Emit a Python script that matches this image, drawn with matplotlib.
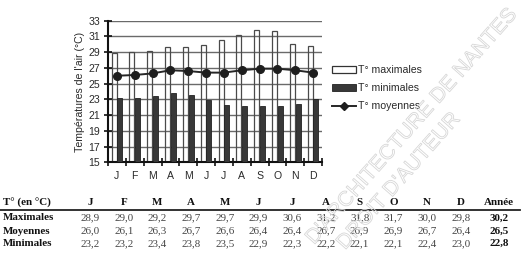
import matplotlib
matplotlib.use('Agg')
import matplotlib.pyplot as plt
import matplotlib.patheffects as pe
from matplotlib.patches import Patch
from matplotlib.lines import Line2D
import numpy as np

# ---------------- data ----------------
months = ['J', 'F', 'M', 'A', 'M', 'J', 'J', 'A', 'S', 'O', 'N', 'D']
t_max = [28.9, 29.0, 29.2, 29.7, 29.7, 29.9, 30.6, 31.2, 31.8, 31.7, 30.0, 29.8]
t_moy = [26.0, 26.1, 26.3, 26.7, 26.6, 26.4, 26.4, 26.7, 26.9, 26.9, 26.7, 26.4]
t_min = [23.2, 23.2, 23.4, 23.8, 23.5, 22.9, 22.3, 22.2, 22.1, 22.1, 22.4, 23.0]
year_max, year_moy, year_min = 30.2, 26.5, 22.8
yticks = list(range(15, 34, 2))
series_labels = ['T° maximales', 'T° minimales', 'T° moyennes']
row_labels = ['Maximales', 'Moyennes', 'Minimales']
header_label = 'T° (en °C)'
year_label = 'Année'
ylabel = "Températures de l'air (°C)"
watermark1 = "D'ARCHITECTURE DE NANTES"
watermark2 = "DROIT D'AUTEUR"

# ---------------- figure ----------------
W, H = 523, 262
fig = plt.figure(figsize=(W / 100, H / 100), dpi=100)
fig.patch.set_facecolor('white')

def fx(x):
    return x / W

def fy(y):
    return 1 - y / H

SANS = 'Liberation Sans'
SERIF = 'Liberation Serif'
fs = 7.6

ax_l, ax_r, ax_t, ax_b = 108, 322, 20.7, 162.3
ax = fig.add_axes([fx(ax_l), fy(ax_b), (ax_r - ax_l) / W, (ax_b - ax_t) / H])

x = np.arange(len(months))
bw = 0.28
off = 0.155
ax.bar(x - off, t_max, width=bw, bottom=0, facecolor='none', edgecolor='#4a4a4a',
       linewidth=0.9, zorder=2)
ax.bar(x + off, t_min, width=bw, bottom=0, facecolor='#383838', edgecolor='#222222',
       linewidth=0.6, zorder=3)
ax.plot(x, t_moy, color='#262626', linewidth=1.4, marker='o', markersize=5.5,
        markerfacecolor='#1e1e1e', markeredgecolor='#1e1e1e', zorder=4)

ax.set_xlim(-0.5, len(months) - 0.5)
ax.set_ylim(15, 33)
ax.set_yticks(yticks)
ax.set_yticklabels([str(v) for v in yticks], fontsize=fs, family=SANS, color='#2a2a2a')
ax.set_xticks(np.arange(-0.5, len(months), 1.0))
ax.set_xticklabels([])
ax.set_xticks(x, minor=True)
ax.set_xticklabels(months, minor=True, fontsize=fs, family=SANS, color='#2a2a2a')
ax.tick_params(axis='y', which='major', direction='inout', length=6, width=1.2,
               color='#111111', pad=2.5)
ax.tick_params(axis='x', which='major', direction='inout', length=6, width=1.2,
               color='#111111')
ax.tick_params(axis='x', which='minor', length=0, pad=6.5)

ax.grid(axis='y', color='#6a6a6a', linewidth=1.0, zorder=1)
ax.set_axisbelow(True)
for s in ['top', 'right']:
    ax.spines[s].set_visible(False)
for s in ['left', 'bottom']:
    ax.spines[s].set_color('#111111')
    ax.spines[s].set_linewidth(1.5)
ax.patch.set_alpha(0)

fig.text(fx(80), fy(92), ylabel, rotation=90, ha='center', va='center',
         fontsize=fs, family=SANS, color='#2a2a2a')

# legend
handles = [
    Patch(facecolor='white', edgecolor='#333333', linewidth=0.9),
    Patch(facecolor='#383838', edgecolor='#222222', linewidth=0.6),
    Line2D([0], [0], color='#262626', linewidth=1.4, marker='D', markersize=4,
           markerfacecolor='#1e1e1e', markeredgecolor='#1e1e1e'),
]
leg = fig.legend(handles, series_labels, loc='upper left',
                 bbox_to_anchor=(fx(332), fy(65)), frameon=False,
                 prop={'family': SANS, 'size': fs}, handlelength=2.3,
                 handleheight=0.6, handletextpad=0.15, labelspacing=0.78,
                 borderpad=0, borderaxespad=0)
for t in leg.get_texts():
    t.set_color('#2a2a2a')

# ---------------- table ----------------
tfs = 7.9
col_x = [90 + 33.7 * i for i in range(len(months))]
year_x = 499
header_y, line_y = 202.5, 209.5
row_y = [218, 231, 243.5]

fig.text(fx(3), fy(header_y), header_label, ha='left', va='center', fontsize=tfs,
         family=SERIF, weight='bold', color='#111111')
for cx, m in zip(col_x, months):
    fig.text(fx(cx), fy(header_y), m, ha='center', va='center', fontsize=tfs,
             family=SERIF, weight='bold', color='#111111')
fig.text(fx(year_x), fy(header_y), year_label, ha='center', va='center', fontsize=tfs,
         family=SERIF, weight='bold', color='#111111')
fig.add_artist(Line2D([fx(0), fx(520)], [fy(line_y), fy(line_y)], color='#222222',
                      linewidth=1.3))

rows = [t_max, t_moy, t_min]
years = [year_max, year_moy, year_min]
for ry, lab, vals, yv in zip(row_y, row_labels, rows, years):
    fig.text(fx(3), fy(ry), lab, ha='left', va='center', fontsize=tfs,
             family=SERIF, weight='bold', color='#111111')
    for cx, v in zip(col_x, vals):
        fig.text(fx(cx), fy(ry), f'{v:.1f}'.replace('.', ','), ha='center',
                 va='center', fontsize=tfs, family=SERIF, color='#444444')
    fig.text(fx(year_x), fy(ry), f'{yv:.1f}'.replace('.', ','), ha='center',
             va='center', fontsize=tfs, family=SERIF, weight='bold', color='#111111')

# ---------------- watermark ----------------
for txt, (cx, cy) in [(watermark1, (412, 126)), (watermark2, (399, 181))]:
    fig.text(fx(cx), fy(cy), txt, rotation=48.5, rotation_mode='anchor',
             ha='center', va='center', fontsize=15, family=SANS, color='none',
             path_effects=[pe.Stroke(linewidth=0.6, foreground='#d6d6d6')],
             zorder=10)

fig.savefig('out.png', dpi=100, facecolor='white')
